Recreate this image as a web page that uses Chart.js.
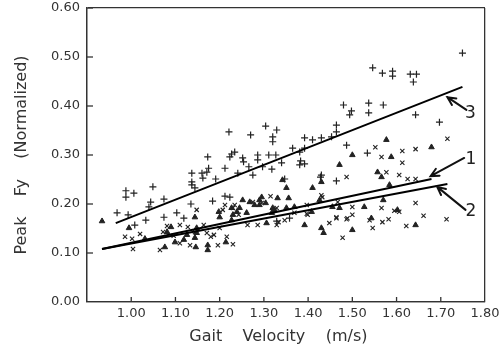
<!DOCTYPE html>
<html>
<head>
<meta charset="utf-8">
<script src="https://cdn.jsdelivr.net/npm/chart.js@4/dist/chart.umd.min.js"></script>
<style>
  body { margin: 0; background: #fff; }
  canvas { background: #fff; }
</style>
</head>
<body>
<canvas id="chart" width="504" height="349"></canvas>
<script>
// Axis ranges and tick values
const xMin = 0.9, xMax = 1.8;
const yMin = 0.0, yMax = 0.6;
const xTickValues = [0.9, 1.0, 1.1, 1.2, 1.3, 1.4, 1.5, 1.6, 1.7, 1.8];
const yTickValues = [0.0, 0.1, 0.2, 0.3, 0.4, 0.5, 0.6];

// Series "+" (curve 3)
const plusPoints = [
    [1.749,0.508],[1.546,0.478],[1.568,0.467],[1.591,0.471],[1.591,0.461],[1.631,0.465],[1.645,0.465],
    [1.638,0.449],[1.570,0.402],[1.643,0.382],[1.697,0.367],[1.480,0.402],[1.537,0.406],[1.498,0.390],
    [1.494,0.382],[1.537,0.386],[1.329,0.351],[1.320,0.337],[1.320,0.327],[1.464,0.361],[1.464,0.347],
    [1.392,0.335],[1.410,0.331],[1.430,0.335],[1.453,0.337],[1.365,0.314],[1.381,0.306],[1.392,0.314],
    [1.487,0.320],[1.534,0.304],[1.381,0.280],[1.392,0.282],[1.383,0.288],[1.428,0.255],[1.464,0.247],
    [1.221,0.347],[1.270,0.341],[1.304,0.359],[1.173,0.296],[1.227,0.302],[1.234,0.306],[1.223,0.296],
    [1.252,0.294],[1.254,0.286],[1.286,0.300],[1.286,0.290],[1.311,0.300],[1.327,0.300],[1.340,0.284],
    [1.212,0.273],[1.266,0.276],[1.275,0.259],[1.297,0.276],[1.318,0.271],[1.241,0.263],[1.137,0.263],
    [1.160,0.263],[1.171,0.265],[1.175,0.273],[1.162,0.253],[1.191,0.251],[1.137,0.245],[1.137,0.239],
    [1.144,0.233],[1.184,0.206],[1.212,0.216],[1.223,0.214],[0.988,0.227],[1.006,0.222],[0.988,0.214],
    [1.049,0.235],[1.044,0.204],[1.040,0.194],[1.074,0.210],[0.968,0.182],[0.993,0.178],[1.033,0.167],
    [1.074,0.173],[1.103,0.182],[1.119,0.171],[1.008,0.157],[1.135,0.200],[1.430,0.259],[1.358,0.171],
    [1.329,0.165],[1.347,0.251]
];

// Series triangles (curve 1)
const trianglePoints = [
    [0.934,0.165],[0.995,0.151],[1.031,0.129],[1.076,0.112],[1.090,0.153],[1.099,0.122],[1.119,0.127],
    [1.126,0.137],[1.144,0.131],[1.148,0.141],[1.146,0.112],[1.173,0.116],[1.173,0.106],[1.214,0.122],
    [1.198,0.184],[1.200,0.173],[1.227,0.192],[1.252,0.208],[1.268,0.204],[1.290,0.208],[1.290,0.198],
    [1.295,0.214],[1.320,0.192],[1.331,0.212],[1.261,0.182],[1.230,0.178],[1.318,0.182],[1.081,0.143],
    [1.351,0.233],[1.342,0.249],[1.306,0.161],[1.239,0.184],[1.227,0.167],[1.144,0.173],[1.148,0.151],
    [1.500,0.300],[1.471,0.280],[1.557,0.265],[1.430,0.245],[1.410,0.233],[1.356,0.212],[1.426,0.208],
    [1.369,0.194],[1.351,0.192],[1.408,0.184],[1.455,0.194],[1.471,0.192],[1.527,0.194],[1.543,0.171],
    [1.392,0.157],[1.430,0.151],[1.435,0.141],[1.500,0.147],[1.588,0.296],[1.566,0.255],[1.584,0.239],
    [1.570,0.208],[1.602,0.188],[1.643,0.157],[1.577,0.331],[1.679,0.316],[1.279,0.198],[1.304,0.202],
    [1.245,0.192],[1.324,0.188]
];

// Series "x" (curve 2)
const crossPoints = [
    [1.715,0.333],[1.552,0.316],[1.566,0.296],[1.613,0.308],[1.643,0.312],[1.613,0.284],[1.577,0.265],
    [1.606,0.259],[1.625,0.251],[1.643,0.251],[1.487,0.255],[1.643,0.202],[1.661,0.176],[1.713,0.169],
    [1.622,0.155],[1.582,0.169],[1.568,0.163],[1.546,0.151],[1.487,0.169],[1.478,0.131],[1.539,0.167],
    [1.500,0.194],[1.595,0.186],[1.606,0.184],[1.464,0.173],[1.448,0.161],[1.397,0.180],[1.347,0.167],
    [1.333,0.163],[1.566,0.192],[1.430,0.218],[1.315,0.216],[1.212,0.198],[1.207,0.188],[1.230,0.192],
    [1.148,0.188],[1.263,0.157],[1.286,0.157],[1.275,0.204],[1.329,0.157],[1.171,0.141],[1.180,0.133],
    [1.187,0.137],[1.216,0.133],[1.230,0.118],[1.196,0.116],[1.164,0.157],[0.986,0.133],[1.002,0.129],
    [1.020,0.139],[1.004,0.108],[1.065,0.106],[1.072,0.143],[1.081,0.155],[1.110,0.157],[1.128,0.153],
    [1.096,0.135],[1.133,0.116],[1.200,0.151],[1.234,0.198],[1.243,0.178],[1.295,0.202],[1.329,0.192],
    [1.110,0.120],[1.144,0.143],[1.432,0.214],[1.467,0.204],[1.489,0.171],[1.500,0.178],[1.464,0.171],
    [1.399,0.178],[1.369,0.182],[1.397,0.198]
];

// Regression lines (start and end)
const fitLine1 = [[0.934,0.108],[1.679,0.251]];
const fitLine2 = [[0.934,0.108],[1.715,0.241]];
const fitLine3 = [[0.965,0.161],[1.749,0.439]];

// Arrow callouts: tip, tail and the number next to them
const arrowLabels = ['1', '2', '3'];
const arrowTips = [[1.677,0.257],[1.692,0.235],[1.715,0.418]];
const arrowTails = [[1.753,0.294],[1.756,0.188],[1.758,0.392]];
const arrowTextPos = [[1.768,0.291],[1.768,0.184],[1.767,0.384]];

const ink = '#222';
const axisColor = '#333';
const fontFamily = "'DejaVu Sans', Verdana, sans-serif";

function toXY(arr) {
    return arr.map(p => ({x: p[0], y: p[1]}));
}

function lineSet(pts) {
    return {
        type: 'line',
        data: toXY(pts),
        showLine: true,
        borderColor: '#000',
        borderWidth: 2,
        pointRadius: 0,
        fill: false
    };
}

// Only the grid lines at the axis limits are shown, which gives the box
function edgeOnly(lo, hi) {
    return c => {
        if (!c.tick) return 'rgba(0,0,0,0)';
        let v = c.tick.value;
        return (Math.abs(v - lo) < 1e-9 || Math.abs(v - hi) < 1e-9) ? axisColor : 'rgba(0,0,0,0)';
    };
}

// Inside tick marks: short line markers clipped to the plot area
const xTickSet = {
    data: xTickValues.slice(1).map(v => ({x: v, y: yMin})),
    pointStyle: 'line',
    rotation: 90,
    pointRadius: 5,
    borderColor: axisColor,
    borderWidth: 1.3,
    clip: 0
};
const yTickSet = {
    data: yTickValues.map(v => ({x: xMin, y: v})),
    pointStyle: 'line',
    rotation: 0,
    pointRadius: 6,
    borderColor: axisColor,
    borderWidth: 1.3,
    clip: 0
};

// The numbered arrows
const arrowPlugin = {
    id: 'arrows',
    afterDraw(chart) {
        const c = chart.ctx;
        const sx = chart.scales.x, sy = chart.scales.y;
        c.save();
        c.strokeStyle = '#111';
        c.lineWidth = 2;
        c.lineCap = 'round';
        c.fillStyle = '#222';
        c.font = '17px ' + fontFamily;
        c.textAlign = 'center';
        c.textBaseline = 'middle';
        for (let i = 0; i < arrowLabels.length; i++) {
            let tx = sx.getPixelForValue(arrowTips[i][0]), ty = sy.getPixelForValue(arrowTips[i][1]);
            let qx = sx.getPixelForValue(arrowTails[i][0]), qy = sy.getPixelForValue(arrowTails[i][1]);
            let ang = Math.atan2(ty - qy, tx - qx);
            let head = 9;
            c.beginPath();
            c.moveTo(qx, qy);
            c.lineTo(tx, ty);
            c.moveTo(tx - head * Math.cos(ang - 0.45), ty - head * Math.sin(ang - 0.45));
            c.lineTo(tx, ty);
            c.lineTo(tx - head * Math.cos(ang + 0.45), ty - head * Math.sin(ang + 0.45));
            c.stroke();
            c.fillText(arrowLabels[i], sx.getPixelForValue(arrowTextPos[i][0]), sy.getPixelForValue(arrowTextPos[i][1]));
        }
        c.restore();
    }
};

new Chart(document.getElementById('chart'), {
    type: 'scatter',
    data: {
        datasets: [
            xTickSet,
            yTickSet,
            lineSet(fitLine1),
            lineSet(fitLine2),
            lineSet(fitLine3),
            {
                data: toXY(plusPoints),
                pointStyle: 'cross',
                pointRadius: 3.5,
                borderColor: ink,
                borderWidth: 1.2,
                backgroundColor: ink
            },
            {
                data: toXY(crossPoints),
                pointStyle: 'crossRot',
                pointRadius: 3,
                borderColor: ink,
                borderWidth: 1.1,
                backgroundColor: ink
            },
            {
                data: toXY(trianglePoints),
                pointStyle: 'triangle',
                pointRadius: 3.2,
                borderColor: ink,
                borderWidth: 1,
                backgroundColor: ink
            }
        ]
    },
    options: {
        responsive: false,
        animation: false,
        layout: {
            padding: {top: 8, right: 19, left: 0, bottom: 0}
        },
        plugins: {
            legend: {display: false},
            tooltip: {enabled: false}
        },
        scales: {
            x: {
                type: 'linear',
                min: xMin,
                max: xMax,
                afterFit: s => { s.height = 47; s.paddingLeft = 0; s.paddingRight = 0; },
                afterBuildTicks: s => { s.ticks = xTickValues.map(v => ({value: v})); },
                grid: {display: true, drawTicks: false, lineWidth: 1.3, color: edgeOnly(xMin, xMax)},
                border: {display: true, color: axisColor, width: 1.3},
                ticks: {
                    padding: 4,
                    color: '#333',
                    font: {family: fontFamily, size: 13},
                    callback: v => Math.abs(v - xMin) < 1e-9 ? '' : v.toFixed(2)
                },
                title: {
                    display: true,
                    text: 'Gait    Velocity    (m/s)   ',
                    color: '#333',
                    font: {family: fontFamily, size: 16},
                    padding: {top: 0, bottom: 3}
                }
            },
            y: {
                type: 'linear',
                min: yMin,
                max: yMax,
                afterFit: s => { s.width = 87; s.paddingTop = 0; s.paddingBottom = 0; },
                afterBuildTicks: s => { s.ticks = yTickValues.map(v => ({value: v})); },
                grid: {display: true, drawTicks: false, lineWidth: 1.3, color: edgeOnly(yMin, yMax)},
                border: {display: true, color: axisColor, width: 1.3},
                ticks: {
                    padding: 7,
                    color: '#333',
                    font: {family: fontFamily, size: 13},
                    callback: v => v.toFixed(2)
                },
                title: {
                    display: true,
                    text: 'Peak    Fy    (Normalized)',
                    color: '#333',
                    font: {family: fontFamily, size: 16},
                    padding: {top: 12, bottom: 0}
                }
            }
        }
    },
    plugins: [arrowPlugin]
});
</script>
</body>
</html>
